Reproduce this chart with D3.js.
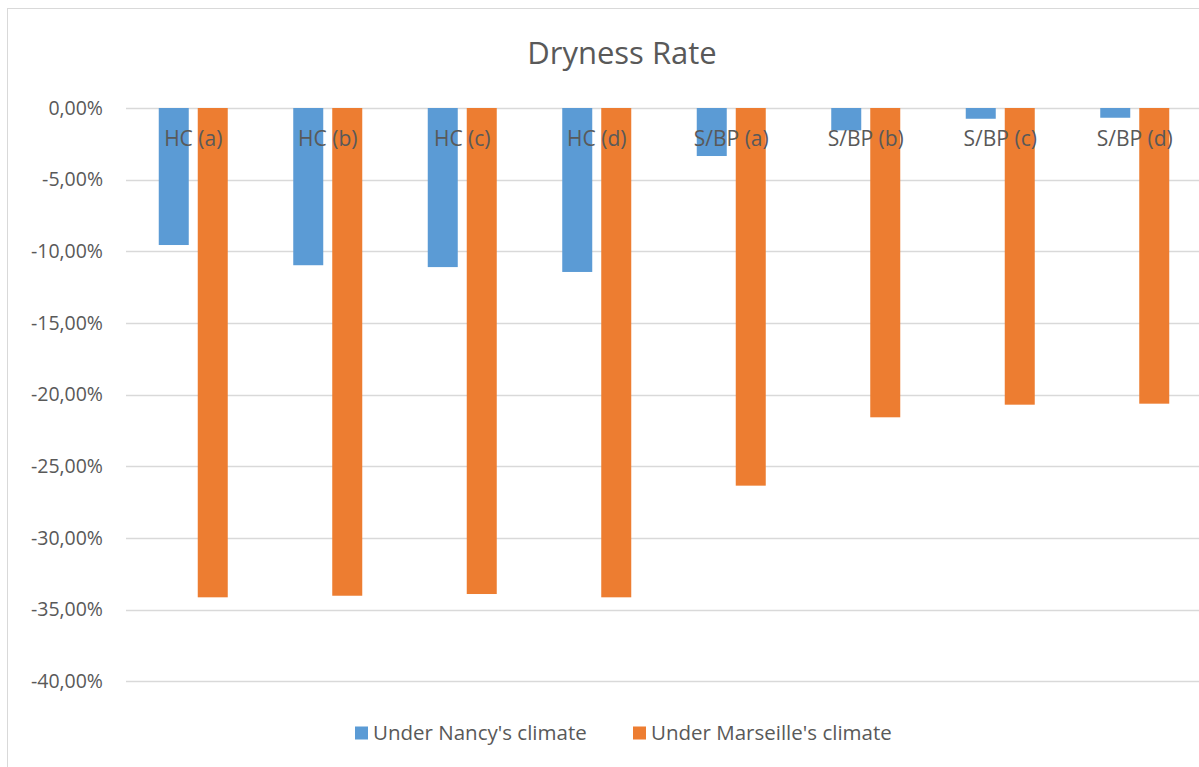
<!DOCTYPE html>
<html>
<head>
<meta charset="utf-8">
<script src="https://cdn.jsdelivr.net/npm/d3@7"></script>
<style>
  html, body { margin: 0; padding: 0; background: #fff; }
  svg { display: block; }
  text { font-family: "Open Sans", "Noto Sans", sans-serif; fill: #595959; }
</style>
</head>
<body>
<svg id="chart" width="1199" height="767"></svg>
<script>
const categories = ["HC (a)", "HC (b)", "HC (c)", "HC (d)", "S/BP (a)", "S/BP (b)", "S/BP (c)", "S/BP (d)"];
const seriesNames = ["Under Nancy's climate", "Under Marseille's climate"];
const nancyValues = [-9.56, -10.97, -11.10, -11.44, -3.35, -1.56, -0.75, -0.68];
const marseilleValues = [-34.14, -34.03, -33.91, -34.14, -26.35, -21.58, -20.70, -20.63];
const yTicks = [0, -5, -10, -15, -20, -25, -30, -35, -40];
const colors = ["#5B9BD5", "#ED7D31"];
const title = "Dryness Rate";

const svg = d3.select("#chart");

// chart frame (clipped on right/bottom like the reference)
svg.append("rect").attr("x", 7.5).attr("y", 8.5).attr("width", 1300).attr("height", 900)
  .attr("fill", "#fff").attr("stroke", "#d9d9d9").attr("stroke-width", 1);

const plotLeft = 126, plotRight = 1202;
const y = d3.scaleLinear().domain([-40, 0]).range([681.3, 108]);
const x0 = d3.scaleBand().domain(categories).range([plotLeft, plotRight]).padding(0);
const step = x0.bandwidth();
const groupW = 69;
const x1 = d3.scaleBand().domain(seriesNames)
  .range([(step - groupW) / 2, (step + groupW) / 2]).paddingInner(0.2308).paddingOuter(0);

// gridlines
svg.append("g").selectAll("line").data(yTicks).join("line")
  .attr("x1", plotLeft).attr("x2", plotRight)
  .attr("y1", d => Math.round(y(d)) + 0.5).attr("y2", d => Math.round(y(d)) + 0.5)
  .attr("stroke", "#d9d9d9").attr("stroke-width", 1.3);

// y axis labels
const yAxis = d3.axisLeft(y).tickValues(yTicks).tickSize(0).tickPadding(0)
  .tickFormat(d => d3.format(".2f")(d).replace("\u2212", "-").replace(".", ",") + "%");
const gy = svg.append("g").attr("transform", "translate(103,0)").call(yAxis);
gy.select(".domain").remove();
gy.selectAll("text").attr("font-size", 19.5).attr("fill", "#595959")
  .attr("font-family", "'Open Sans', sans-serif");

// bars
const data = categories.map((c, i) => ({ cat: c, vals: [nancyValues[i], marseilleValues[i]] }));
const groups = svg.append("g").selectAll("g").data(data).join("g")
  .attr("transform", d => `translate(${x0(d.cat)},0)`);
groups.selectAll("rect").data(d => d.vals.map((v, j) => ({ s: seriesNames[j], v, j })))
  .join("rect")
  .attr("x", d => x1(d.s))
  .attr("width", x1.bandwidth())
  .attr("y", d => y(0))
  .attr("height", d => y(d.v) - y(0))
  .attr("fill", d => colors[d.j]);

// category labels (drawn at the top, over bars)
svg.append("g").selectAll("text").data(categories).join("text")
  .attr("x", d => x0(d) + step / 2)
  .attr("y", 139)
  .attr("dy", "0.35em")
  .attr("text-anchor", "middle")
  .attr("font-size", 21)
  .text(d => d);

// title
svg.append("text").attr("x", 622).attr("y", 53).attr("dy", "0.35em")
  .attr("text-anchor", "middle").attr("font-size", 31).text(title);

// legend
const legendItems = [{ name: seriesNames[0], x: 355 }, { name: seriesNames[1], x: 633 }];
const lg = svg.append("g").selectAll("g").data(legendItems).join("g")
  .attr("transform", d => `translate(${d.x},733)`);
lg.append("rect").attr("x", 0).attr("y", -6.5).attr("width", 13).attr("height", 13)
  .attr("fill", (d, i) => colors[i]);
lg.append("text").attr("x", 18).attr("y", 0).attr("dy", "0.35em")
  .attr("font-size", 20.5).text(d => d.name);
</script>
</body>
</html>
